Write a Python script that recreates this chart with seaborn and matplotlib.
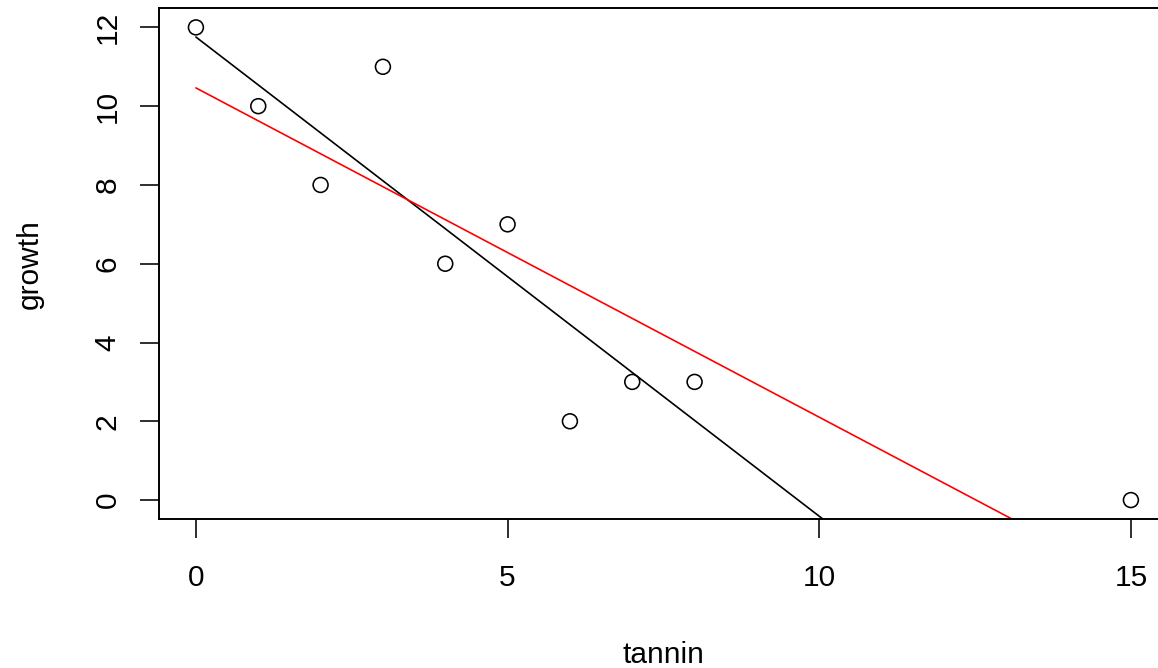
import numpy as np
import pandas as pd
import matplotlib
matplotlib.use("Agg")
import matplotlib.pyplot as plt
import seaborn as sns

# data
tannin = [0, 1, 2, 3, 4, 5, 6, 7, 8, 15]
growth = [12, 10, 8, 11, 6, 7, 2, 3, 3, 0]
x_ticks = [0, 5, 10, 15]
y_ticks = [0, 2, 4, 6, 8, 10, 12]

sns.set_style("ticks")
plt.rcParams["font.family"] = ["Liberation Sans", "DejaVu Sans"]
plt.rcParams["text.color"] = "black"
plt.rcParams["axes.labelcolor"] = "black"

df = pd.DataFrame({"tannin": tannin, "growth": growth})
sub = df[df["tannin"] <= 8]

# regression fits
b_all = np.polyfit(df["tannin"], df["growth"], 1)
b_sub = np.polyfit(sub["tannin"], sub["growth"], 1)
xs = np.array([min(tannin), max(tannin)], dtype=float)
lines = pd.DataFrame({
    "x": np.concatenate([xs, xs]),
    "y": np.concatenate([np.polyval(b_sub, xs), np.polyval(b_all, xs)]),
    "fit": ["sub", "sub", "all", "all"],
})

fig = plt.figure(figsize=(11.58, 6.68), dpi=100)
ax = fig.add_axes([0.1369, 0.2231, 0.8720, 0.7642])

sns.lineplot(data=lines, x="x", y="y", hue="fit", palette={"sub": "black", "all": "#FF0000"},
             linewidth=1.2, legend=False, ax=ax, estimator=None, sort=False)
sns.scatterplot(data=df, x="tannin", y="growth", marker="o", s=115,
                facecolor="none", edgecolor="black", linewidth=1.15, ax=ax, zorder=3)

ax.set_xlim(-0.6, 15.6)
ax.set_ylim(-0.48, 12.48)
ax.set_xticks(x_ticks)
ax.set_yticks(y_ticks)
ax.set_xticklabels([str(v) for v in x_ticks])
ax.set_yticklabels([str(v) for v in y_ticks], rotation=90, va="center")

for s in ax.spines.values():
    s.set_visible(True)
    s.set_linewidth(1.4)
    s.set_color("black")
ax.spines["right"].set_visible(False)

ax.tick_params(axis="both", direction="out", length=13.7, width=1.15, color="black",
               labelsize=21.5, labelcolor="black")
ax.tick_params(axis="x", pad=19)
ax.tick_params(axis="y", pad=13)

ax.set_xlabel("tannin", fontsize=21.5, color="black")
ax.set_ylabel("growth", fontsize=21.5, color="black")
ax.xaxis.set_label_coords(0.5, -0.239)
ax.yaxis.set_label_coords(-0.114, 0.5)

fig.savefig("out.png", dpi=100, facecolor="white")
